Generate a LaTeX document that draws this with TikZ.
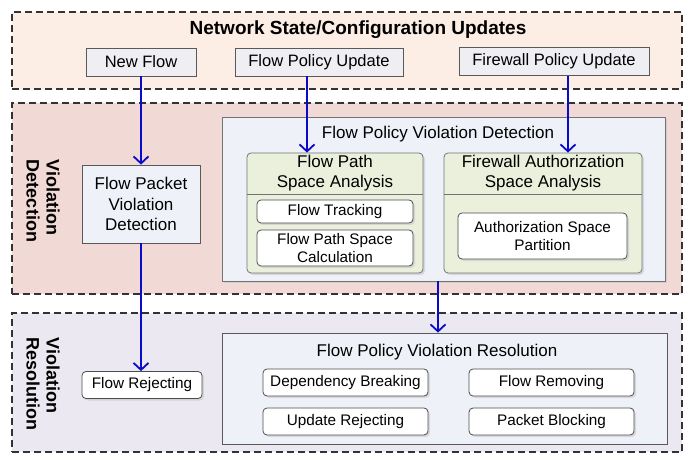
\documentclass[tikz,border=0pt]{standalone}
\usepackage{fontspec}
\setmainfont{Liberation Sans}
\usetikzlibrary{arrows.meta,shadows,calc}

\definecolor{bandtop}{HTML}{FCEEE4}
\definecolor{bandmid}{HTML}{F1DAD6}
\definecolor{bandbot}{HTML}{ECE8F1}
\definecolor{panelfill}{HTML}{EEF2F8}
\definecolor{greenfill}{HTML}{EAF0DC}
\definecolor{updfill}{HTML}{EFEEF3}
\definecolor{flowblue}{HTML}{0A0ACC}

\tikzset{
  band/.style={draw=black!80, dash pattern=on 7pt off 4pt, line width=1.1pt, inner sep=0pt},
  updbox/.style={draw=black!65, fill=updfill, line width=0.8pt, inner sep=0pt,
    font=\fontsize{16.5}{19}\selectfont},
  panel/.style={draw=black!55, fill=panelfill, line width=0.8pt, inner sep=0pt,
    drop shadow={shadow xshift=2pt, shadow yshift=-2pt, fill=black!25}},
  greenbox/.style={draw=black!55, fill=greenfill, rounded corners=4pt, line width=0.8pt,
    inner sep=0pt, drop shadow={shadow xshift=2pt, shadow yshift=-2pt, fill=black!25}},
  pill/.style={draw=black!70, fill=white, rounded corners=4pt, line width=0.8pt, inner sep=0pt,
    align=center, font=\fontsize{15.3}{18}\selectfont,
    drop shadow={shadow xshift=2pt, shadow yshift=-2pt, fill=black!25}},
  sidelabel/.style={rotate=-90, align=left, inner sep=0pt,
    font=\bfseries\fontsize{18}{20}\selectfont},
  heading/.style={font=\fontsize{17}{20}\selectfont, align=center, inner sep=0pt},
  flow/.style={draw=flowblue, line width=2.2pt,
    -{Straight Barb[length=7pt,width=15pt,line width=1.8pt]}},
}

\begin{document}
\begin{tikzpicture}[x=1pt,y=-1pt]
\useasboundingbox (0,0) rectangle (687,454);

% horizontal bands
\node[band, fill=bandtop, minimum width=670, minimum height=77] (top) at (347,50.5) {};
\node[band, fill=bandmid, minimum width=670, minimum height=191] (mid) at (347,198.5) {};
\node[band, fill=bandbot, minimum width=670, minimum height=139] (bot) at (347,382.5) {};

% configuration updates
\node[font=\bfseries\fontsize{19}{21}\selectfont] (title) at (358,30) {Network State/Configuration Updates};
\node[updbox, minimum width=110, minimum height=28] (nf) at (141,62) {New Flow};
\node[updbox, minimum width=168, minimum height=28] (fpu) at (319,62) {Flow Policy Update};
\node[updbox, minimum width=190, minimum height=28] (fwu) at (554,61.5) {Firewall Policy Update};

% violation detection
\node[sidelabel] (vd) at (43,201) {Violation\\Detection};
\node[draw=black!65, fill=panelfill, line width=0.8pt, minimum width=118, minimum height=78,
  align=center, font=\fontsize{17}{20.5}\selectfont] (fpvd) at (141,204)
  {Flow Packet\\Violation\\Detection};

\node[panel, minimum width=443, minimum height=164] (det) at (443.5,199) {};
\node[heading] (dettitle) at (438,134) {Flow Policy Violation Detection};

\node[greenbox, minimum width=176, minimum height=120] (fpa) at (335,213) {};
\draw[black!55, line width=0.8pt] (fpa.west |- 0,194) -- (fpa.east |- 0,194);
\node[heading] (fpat) at (335,173.5) {Flow Path\\Space Analysis};
\node[pill, minimum width=156, minimum height=23] (ft) at (335,211.5) {Flow Tracking};
\node[pill, minimum width=156, minimum height=36] (fpsc) at (335,248)
  {Flow Path Space\\Calculation};

\node[greenbox, minimum width=198, minimum height=120] (fwa) at (543,213) {};
\draw[black!55, line width=0.8pt] (fwa.west |- 0,194) -- (fwa.east |- 0,194);
\node[heading] (fwat) at (543,173.5) {Firewall Authorization\\Space Analysis};
\node[pill, minimum width=169, minimum height=46] (asp) at (542.5,236)
  {Authorization Space\\Partition};

% violation resolution
\node[sidelabel] (vr) at (43,384) {Violation\\Resolution};
\node[pill, minimum width=120, minimum height=27] (fr) at (142,385) {Flow Rejecting};

\node[draw=black!65, fill=panelfill, line width=0.8pt, minimum width=445, minimum height=111] (res) at (444.5,388.5) {};
\node[heading] (restitle) at (437,352) {Flow Policy Violation Resolution};
\node[pill, minimum width=165, minimum height=27] (db) at (345.5,382.5) {Dependency Breaking};
\node[pill, minimum width=165, minimum height=27] (frm) at (551.5,382.5) {Flow Removing};
\node[pill, minimum width=165, minimum height=27] (ur) at (345.5,421.5) {Update Rejecting};
\node[pill, minimum width=165, minimum height=27] (pb) at (551.5,421.5) {Packet Blocking};

% control flow
\draw[flow] (nf.south) -- (fpvd.north);
\draw[flow] (fpvd.south) -- (fpvd.south |- fr.north);
\draw[flow] ([xshift=-12pt]fpu.south) -- ([xshift=-12pt]fpu.south |- fpa.north);
\draw[flow] ([xshift=14pt]fwu.south) -- ([xshift=14pt]fwu.south |- fwa.north);
\draw[flow] (det.south -| 438,0) -- (res.north -| 438,0);
\end{tikzpicture}
\end{document}
